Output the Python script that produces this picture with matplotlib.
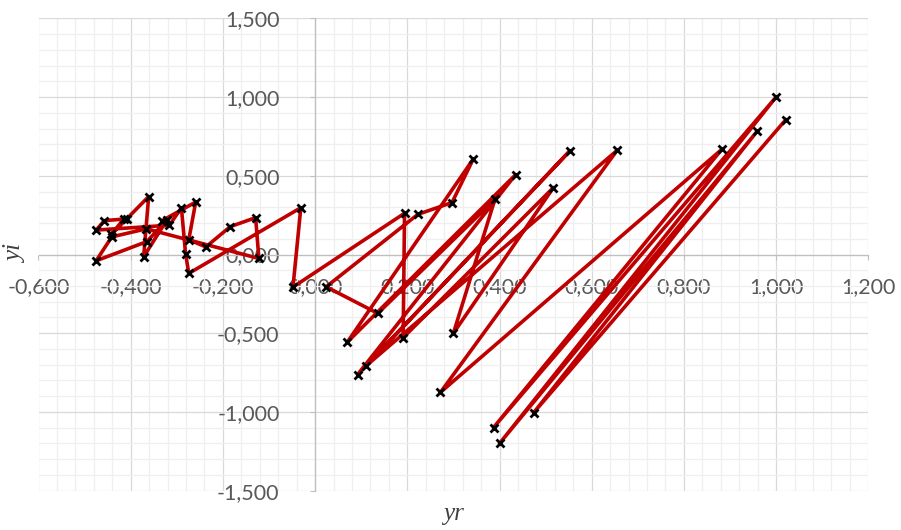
import numpy as np
import matplotlib.pyplot as plt
from matplotlib.ticker import MultipleLocator, FuncFormatter

# trajectory of y in the complex plane (real part, imaginary part), in order
yr = [1.021, 0.474, 0.959, 0.400, 1.000, 0.387, 0.882, 0.272, 0.655, 0.111,
      0.553, 0.092, 0.435, 0.070, 0.343, 0.297, 0.223, 0.024, 0.136, 0.390,
      0.300, 0.517, 0.191, 0.194, -0.048, -0.031, -0.274, -0.281, -0.290, -0.316,
      -0.475, -0.457, -0.415, -0.442, -0.408, -0.361, -0.372, -0.322, -0.365, -0.475,
      -0.441, -0.366, -0.122, -0.129, -0.184, -0.237, -0.274, -0.259, -0.332]
yi = [0.856, -1.005, 0.783, -1.200, 1.000, -1.099, 0.667, -0.875, 0.661, -0.706,
      0.659, -0.763, 0.507, -0.556, 0.606, 0.330, 0.255, -0.205, -0.374, 0.350,
      -0.500, 0.425, -0.528, 0.262, -0.207, 0.297, -0.120, 0.006, 0.297, 0.186,
      0.155, 0.215, 0.225, 0.128, 0.228, 0.368, -0.015, 0.217, 0.082, -0.040,
      0.112, 0.163, -0.025, 0.234, 0.177, 0.048, 0.094, 0.333, 0.215]

grey_txt = '#595959'
plt.rcParams['font.family'] = ['Lato', 'DejaVu Sans']

fig = plt.figure(figsize=(9.01, 5.30), dpi=100)
ax = fig.add_axes([38.5/901, 1-490.7/530, (868.3-38.5)/901, (490.7-18.3)/530])

ax.plot(yr, yi, color='#C00000', lw=2.6, marker='x', ms=5.5, mec='black',
        mew=2.0, zorder=3)

ax.set_xlim(-0.6, 1.2)
ax.set_ylim(-1.5, 1.5)
ax.xaxis.set_major_locator(MultipleLocator(0.2))
ax.xaxis.set_minor_locator(MultipleLocator(0.04))
ax.yaxis.set_major_locator(MultipleLocator(0.5))
ax.yaxis.set_minor_locator(MultipleLocator(0.1))

fmt = FuncFormatter(lambda v, p: f'{v + 0.0:.3f}'.replace('.', ','))
ax.xaxis.set_major_formatter(fmt)
ax.yaxis.set_major_formatter(fmt)

ax.grid(which='minor', color='#EFEFEF', lw=0.9, zorder=0)
ax.grid(which='major', color='#D9D9D9', lw=0.9, zorder=1)
ax.set_axisbelow(True)

# axes cross at the origin
for s in ('top', 'right'):
    ax.spines[s].set_visible(False)
ax.spines['left'].set_position(('data', 0))
ax.spines['bottom'].set_position(('data', 0))
for s in ('left', 'bottom'):
    ax.spines[s].set_color('#BFBFBF')
    ax.spines[s].set_linewidth(0.9)

ax.tick_params(which='major', direction='out', length=3.6, width=0.75,
               color='#BFBFBF', labelsize=15.5, labelcolor=grey_txt)
ax.tick_params(axis='x', which='major', pad=13)
ax.tick_params(axis='y', which='major', pad=22)
ax.tick_params(which='minor', length=0)

fig.text(0.018, 0.52, 'yi', rotation=90, ha='center', va='center',
         fontsize=18, style='italic', family='Liberation Serif', color='#404040')
fig.text(0.503, 0.03, 'yr', ha='center', va='center',
         fontsize=18, style='italic', family='Liberation Serif', color='#404040')

fig.savefig('out.png', dpi=100)
